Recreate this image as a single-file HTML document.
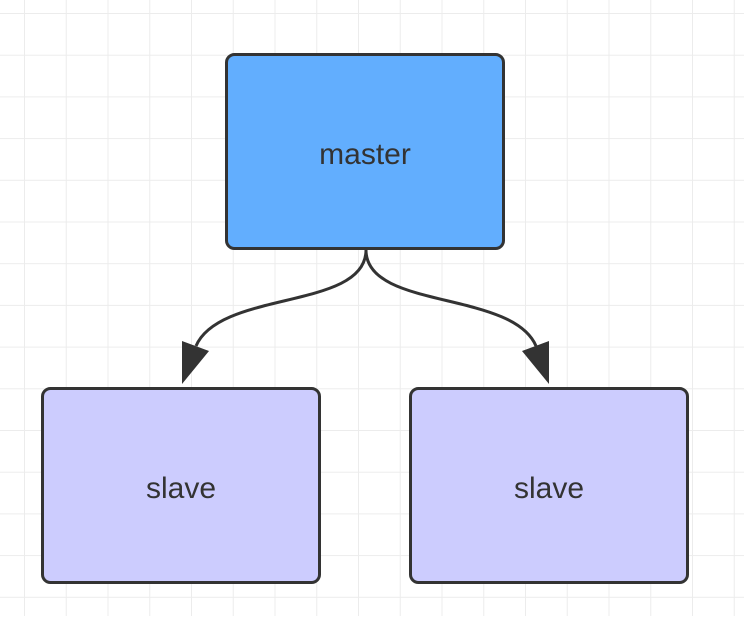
<!DOCTYPE html>
<html><head><style>
body{margin:0;width:744px;height:616px;overflow:hidden;background:#fff;}
</style></head><body>
<svg width="744" height="616" xmlns="http://www.w3.org/2000/svg">
<defs>
<pattern id="g" x="24" y="13" width="41.75" height="41.7" patternUnits="userSpaceOnUse">
<path d="M0 0H41.75M0 0V41.7" stroke="#ececec" stroke-width="2" fill="none"/>
</pattern>
</defs>
<rect x="0" y="0" width="744" height="616" fill="url(#g)"/>
<rect x="226.5" y="54.5" width="277" height="194" rx="8" fill="#62aefe" stroke="#333" stroke-width="3"/>
<rect x="42.5" y="388.5" width="277" height="194" rx="8" fill="#ccccfe" stroke="#333" stroke-width="3"/>
<rect x="410.5" y="388.5" width="277" height="194" rx="8" fill="#ccccfe" stroke="#333" stroke-width="3"/>
<path d="M366 250 C366 310 220 290 196 346" stroke="#333" stroke-width="3" fill="none"/>
<path d="M366 250 C366 310 512 290 536 346" stroke="#333" stroke-width="3" fill="none"/>
<polygon points="182,384 182,341 209,351" fill="#333"/>
<polygon points="549,384 549,341 522,351" fill="#333"/>
<g font-family="Liberation Sans, sans-serif" font-size="30" fill="#333" text-anchor="middle">
<text x="365" y="164">master</text>
<text x="181" y="498">slave</text>
<text x="549" y="498">slave</text>
</g>
</svg>
</body></html>
